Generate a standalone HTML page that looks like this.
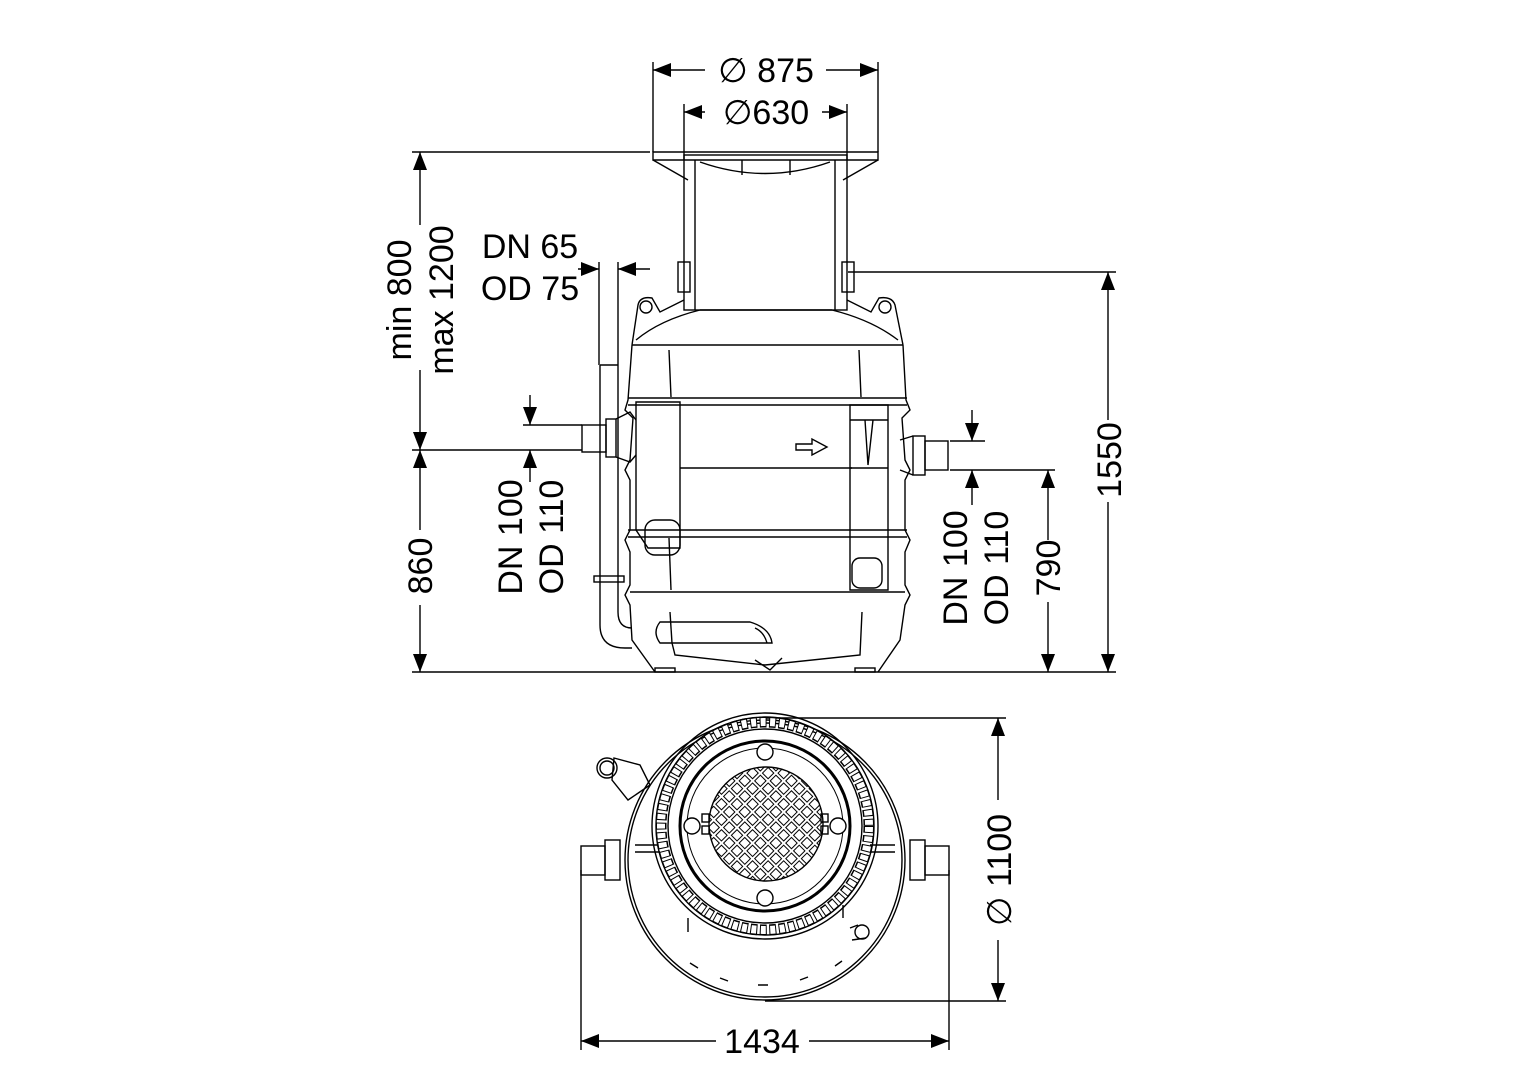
<!DOCTYPE html>
<html><head><meta charset="utf-8"><style>
html,body{margin:0;padding:0;background:#fff}
svg{display:block}
text{font-family:"Liberation Sans",Arial,sans-serif;fill:#000}
</style></head><body>
<svg width="1528" height="1080" viewBox="0 0 1528 1080" xmlns="http://www.w3.org/2000/svg">
<defs>
<marker id="a" markerWidth="20" markerHeight="16" refX="18" refY="7" orient="auto" markerUnits="userSpaceOnUse"><path d="M0,0 L18,7 L0,14 Z" fill="#000"/></marker>
<pattern id="grid" width="11" height="11" patternUnits="userSpaceOnUse" patternTransform="rotate(45 766 824)"><rect x="1.5" y="1.5" width="8" height="8" fill="#fff" stroke="#000" stroke-width="1"/></pattern>
<clipPath id="gc"><circle cx="766" cy="824" r="57"/></clipPath>
</defs>
<g stroke="#000" fill="none" stroke-width="1.4">
<line x1="653" y1="62" x2="653" y2="152"/><line x1="878" y1="62" x2="878" y2="152"/>
<line x1="705" y1="70" x2="653" y2="70" marker-end="url(#a)"/><line x1="826" y1="70" x2="878" y2="70" marker-end="url(#a)"/>
<line x1="684" y1="104" x2="684" y2="160"/><line x1="847" y1="104" x2="847" y2="160"/>
<line x1="705" y1="112" x2="684" y2="112" marker-end="url(#a)"/><line x1="822" y1="112" x2="847" y2="112" marker-end="url(#a)"/>
<line x1="412" y1="152" x2="650" y2="152"/>
<line x1="412" y1="450" x2="582" y2="450"/>
<line x1="412" y1="672" x2="1116" y2="672"/>
<line x1="420" y1="225" x2="420" y2="152" marker-end="url(#a)"/>
<line x1="420" y1="370" x2="420" y2="450" marker-end="url(#a)"/>
<line x1="420" y1="530" x2="420" y2="450" marker-end="url(#a)"/>
<line x1="420" y1="605" x2="420" y2="672" marker-end="url(#a)"/>
<line x1="599" y1="262" x2="599" y2="365"/><line x1="618" y1="262" x2="618" y2="365"/>
<line x1="578" y1="269" x2="599" y2="269" marker-end="url(#a)"/><line x1="650" y1="269" x2="618" y2="269" marker-end="url(#a)"/>
<line x1="523" y1="425" x2="582" y2="425"/>
<line x1="530" y1="395" x2="530" y2="425" marker-end="url(#a)"/>
<line x1="530" y1="482" x2="530" y2="450" marker-end="url(#a)"/>
<line x1="950" y1="441" x2="985" y2="441"/>
<line x1="950" y1="470" x2="1055" y2="470"/>
<line x1="972" y1="410" x2="972" y2="441" marker-end="url(#a)"/>
<line x1="972" y1="505" x2="972" y2="470" marker-end="url(#a)"/>
<line x1="1048" y1="540" x2="1048" y2="470" marker-end="url(#a)"/>
<line x1="1048" y1="602" x2="1048" y2="672" marker-end="url(#a)"/>
<line x1="848" y1="272" x2="1116" y2="272"/>
<line x1="1108" y1="420" x2="1108" y2="272" marker-end="url(#a)"/>
<line x1="1108" y1="502" x2="1108" y2="672" marker-end="url(#a)"/>
<line x1="765" y1="718" x2="1006" y2="718"/><line x1="765" y1="1001" x2="1006" y2="1001"/>
<line x1="998" y1="800" x2="998" y2="718" marker-end="url(#a)"/>
<line x1="998" y1="940" x2="998" y2="1001" marker-end="url(#a)"/>
<line x1="581" y1="870" x2="581" y2="1050"/><line x1="949" y1="870" x2="949" y2="1050"/>
<line x1="716" y1="1041" x2="581" y2="1041" marker-end="url(#a)"/>
<line x1="809" y1="1041" x2="949" y2="1041" marker-end="url(#a)"/>

<path d="M653,152 L878,152 L878,160 L653,160 Z"/>
<path d="M653,160 L688,180 M878,160 L843,180"/>
<path d="M700,162 Q765,185 830,162"/>
<line x1="742" y1="160" x2="742" y2="175"/><line x1="790" y1="160" x2="790" y2="175"/>
<rect x="684" y="155" width="163" height="155"/>
<line x1="695" y1="160" x2="695" y2="310"/><line x1="835" y1="160" x2="835" y2="310"/>
<rect x="678" y="262" width="12" height="30"/><rect x="842" y="262" width="12" height="30"/>
<path d="M684,300 L660,312 L652,298 Q640,296 638,305 L632,345 M847,300 L871,312 L879,298 Q892,296 895,305 L903,345"/>
<circle cx="646" cy="307" r="6"/><circle cx="885" cy="307" r="6"/>
<path d="M636,340 Q660,320 700,310 L832,310 Q872,320 898,340"/>
<line x1="632" y1="345" x2="903" y2="345"/>
<path d="M632,345 L628,400 L625,410 L633,418 L630,460 L625,470 L630,480 L630,530 L625,540 L630,552 L630,585 L625,595 L630,605 L632,640 L655,672"/>
<path d="M903,345 L906,400 L910,410 L902,418 L905,460 L910,470 L905,480 L905,530 L910,540 L905,552 L905,585 L910,595 L905,605 L900,640 L878,672"/>
<line x1="628" y1="398" x2="907" y2="398"/><line x1="628" y1="405" x2="907" y2="405"/>
<line x1="680" y1="468" x2="852" y2="468"/>
<line x1="628" y1="530" x2="907" y2="530"/><line x1="628" y1="537" x2="907" y2="537"/>
<line x1="630" y1="592" x2="905" y2="592"/>
<line x1="669" y1="350" x2="671" y2="397"/><line x1="859" y1="350" x2="861" y2="397"/>
<line x1="669" y1="538" x2="671" y2="590"/>
<path d="M636,402 L636,530 L648,548 L680,548 L680,402 Z"/>
<rect x="645" y="520" width="35" height="35" rx="10"/>
<path d="M850,405 L850,590 L888,590 L888,405 Z"/>
<rect x="852" y="558" width="30" height="30" rx="8"/>
<path d="M850,420 L888,420 M850,468 L888,468 M865,420 L868,465 L873,420"/>
<path d="M796,444 L812,444 L812,439 L827,447 L812,455 L812,450 L796,450 Z"/>
<rect x="582" y="425" width="24" height="27"/><rect x="606" y="419" width="10" height="38"/>
<path d="M616,419 L630,412 L636,420 M616,457 L630,462 L636,455"/>
<rect x="925" y="441" width="23" height="29"/><rect x="913" y="436" width="12" height="39"/>
<path d="M913,436 L900,440 M913,475 L900,470"/>
<path d="M600,365 L600,625 Q600,648 625,648 L632,648"/>
<path d="M618,365 L618,612 Q618,628 632,628"/>
<line x1="600" y1="365" x2="618" y2="365"/>
<rect x="594" y="576" width="30" height="6"/>
<path d="M660,622 L750,622 Q770,628 772,643 L660,643 Q652,632 660,622 Z"/>
<path d="M755,628 Q764,632 767,643"/>
<path d="M672,643 L675,655 L765,665 L860,655 L862,612"/>
<line x1="670" y1="612" x2="672" y2="643"/>
<path d="M755,660 L770,670 L782,658"/>
<rect x="655" y="668" width="20" height="4"/><rect x="855" y="668" width="20" height="4"/>

<circle cx="765" cy="860" r="140"/>
<circle cx="765" cy="860" r="137"/>
<path d="M635,845 L660,845 M635,852 L660,852 M870,845 L895,845 M870,852 L895,852"/>
<rect x="581" y="846" width="24" height="29"/><rect x="605" y="840" width="15" height="40"/>
<rect x="925" y="846" width="24" height="29"/><rect x="910" y="840" width="15" height="40"/>
<path d="M614,758 L640,765 L650,785 L628,800 L612,780 Z"/>
<circle cx="607" cy="768" r="10"/><circle cx="607" cy="768" r="7"/>
<circle cx="862" cy="932" r="7"/><path d="M850,928 L858,925 M852,940 L866,938"/>
<line x1="688" y1="918" x2="688" y2="932"/><line x1="843" y1="905" x2="843" y2="918"/>
<path d="M690,963 L698,968 M720,978 L728,981 M758,985 L768,985 M800,980 L808,977 M835,966 L842,961" />
<circle cx="765" cy="826" r="113"/>
<circle cx="765" cy="826" r="109"/>
<circle cx="765" cy="826" r="104" stroke-width="11" stroke-dasharray="7 2.5"/>
<circle cx="765" cy="826" r="104" stroke="#fff" stroke-width="8" stroke-dasharray="5 4.5" stroke-dashoffset="-1"/>
<circle cx="765" cy="826" r="97"/>
<circle cx="765" cy="826" r="85" stroke-width="3"/>
<circle cx="765" cy="826" r="78" stroke-width="1"/>
<g clip-path="url(#gc)"><rect x="700" y="760" width="130" height="130" fill="url(#grid)" stroke="none"/></g>
<circle cx="766" cy="824" r="57"/>
<circle cx="765" cy="752" r="8" fill="#fff"/><circle cx="765" cy="898" r="8" fill="#fff"/>
<circle cx="692" cy="826" r="8" fill="#fff"/><circle cx="838" cy="826" r="8" fill="#fff"/>
<rect x="702" y="814" width="7" height="8"/><rect x="702" y="826" width="7" height="8"/>
<rect x="821" y="814" width="7" height="8"/><rect x="821" y="826" width="7" height="8"/>
</g>

<g font-size="34">
<text x="766" y="82" text-anchor="middle">∅ 875</text>
<text x="766" y="124" text-anchor="middle">∅630</text>
<text x="530" y="258" text-anchor="middle">DN 65</text>
<text x="530" y="300" text-anchor="middle">OD 75</text>
<text transform="translate(411,300) rotate(-90)" text-anchor="middle">min 800</text>
<text transform="translate(453,300) rotate(-90)" text-anchor="middle">max 1200</text>
<text transform="translate(432,566) rotate(-90)" text-anchor="middle">860</text>
<text transform="translate(522,537) rotate(-90)" text-anchor="middle">DN 100</text>
<text transform="translate(563,537) rotate(-90)" text-anchor="middle">OD 110</text>
<text transform="translate(967,568) rotate(-90)" text-anchor="middle">DN 100</text>
<text transform="translate(1008,568) rotate(-90)" text-anchor="middle">OD 110</text>
<text transform="translate(1060,568) rotate(-90)" text-anchor="middle">790</text>
<text transform="translate(1121,460) rotate(-90)" text-anchor="middle">1550</text>
<text transform="translate(1011,870) rotate(-90)" text-anchor="middle">∅ 1100</text>
<text x="762" y="1053" text-anchor="middle">1434</text>
</g>
</svg>
</body></html>
